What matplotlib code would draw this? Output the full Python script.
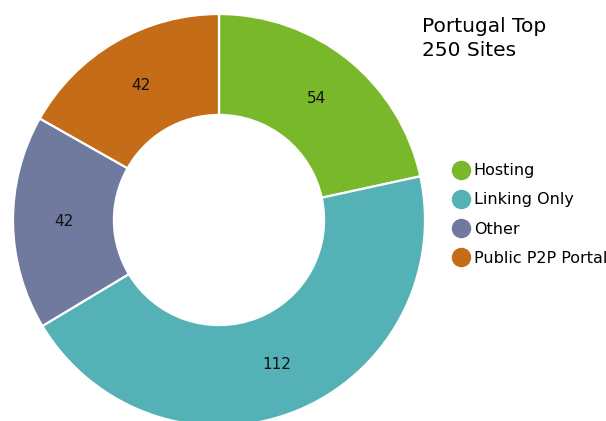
import matplotlib
matplotlib.use("Agg")
import matplotlib.pyplot as plt
from matplotlib.lines import Line2D

categories = ["Hosting", "Linking Only", "Other", "Public P2P Portal"]
values = [54, 112, 42, 42]
colors = ["#78b82a", "#54b2b6", "#6f7a9e", "#c46c17"]
title = "Portugal Top\n250 Sites"

plt.rcParams['font.family'] = ['DejaVu Sans']

W, H = 606, 421
fig = plt.figure(figsize=(W / 100, H / 100), dpi=100)

# pie axes: center (219,220) px, radius 206 px
cx, cy, R = 219, 220, 206
ax = fig.add_axes([(cx - R) / W, (H - cy - R) / H, 2 * R / W, 2 * R / H])

total = sum(values)
wedges, texts, autotexts = ax.pie(
    values, colors=colors, startangle=90, counterclock=False, radius=1,
    wedgeprops=dict(width=0.49, edgecolor='white', linewidth=1.6),
    autopct=lambda p: f"{round(p * total / 100):d}", pctdistance=0.755,
    textprops=dict(fontsize=11, color='#111111'))
ax.set_xlim(-1, 1)
ax.set_ylim(-1, 1)
ax.set_aspect('equal')
ax.axis('off')

fig.text(422 / W, 1 - 17 / H, title, ha='left', va='top', fontsize=14.5,
         color='#000000', linespacing=1.3)

handles = [Line2D([0], [0], marker='o', linestyle='none', markersize=13,
                  markerfacecolor=c, markeredgecolor=c) for c in colors]
fig.legend(handles, categories, loc='upper left',
           bbox_to_anchor=(445 / W, 1 - 157 / H), frameon=False,
           fontsize=11.5, handletextpad=0.2, labelspacing=0.88,
           handlelength=1.2, borderaxespad=0)

fig.savefig("out.png", dpi=100)
